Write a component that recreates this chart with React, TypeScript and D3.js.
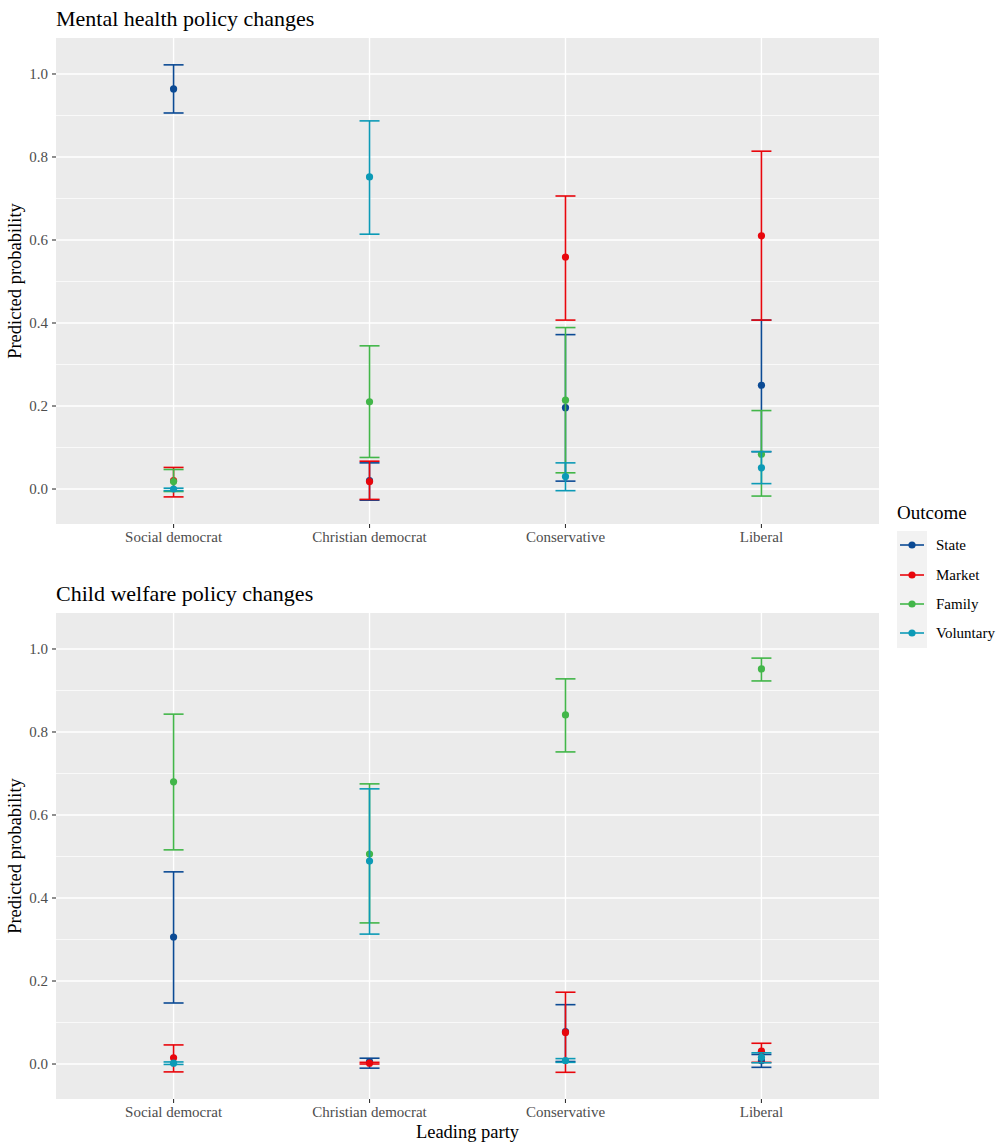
import React from "react";
import * as d3 from "d3";

const parties = ["Social democrat", "Christian democrat", "Conservative", "Liberal"];
const outcomes = ["State", "Market", "Family", "Voluntary"];
const colors = ["#0b4a94", "#e8060c", "#42b649", "#0c9ab6"];
const yTicks = [0, 0.2, 0.4, 0.6, 0.8, 1.0];
const yMinor = [0.1, 0.3, 0.5, 0.7, 0.9];

// [estimate, lower, upper] per outcome per party
const mentalState = [[0.964, 0.906, 1.022], [0.02, -0.027, 0.063], [0.196, 0.019, 0.372], [0.25, 0.09, 0.407]];
const mentalMarket = [[0.02, -0.019, 0.052], [0.018, -0.025, 0.067], [0.559, 0.407, 0.706], [0.61, 0.407, 0.814]];
const mentalFamily = [[0.018, -0.006, 0.047], [0.21, 0.076, 0.345], [0.214, 0.039, 0.389], [0.084, -0.017, 0.189]];
const mentalVoluntary = [[0.0, -0.004, 0.002], [0.752, 0.614, 0.887], [0.03, -0.004, 0.063], [0.051, 0.013, 0.09]];

const childState = [[0.306, 0.147, 0.463], [0.006, -0.01, 0.014], [0.078, 0.006, 0.143], [0.008, -0.008, 0.023]];
const childMarket = [[0.015, -0.019, 0.046], [0.002, 0.0, 0.004], [0.076, -0.02, 0.173], [0.031, 0.004, 0.05]];
const childFamily = [[0.68, 0.516, 0.843], [0.506, 0.34, 0.675], [0.841, 0.752, 0.928], [0.952, 0.923, 0.978]];
const childVoluntary = [[0.002, -0.001, 0.005], [0.489, 0.313, 0.663], [0.008, 0.004, 0.013], [0.016, 0.003, 0.027]];

const panels = [
  { title: "Mental health policy changes", series: [mentalState, mentalMarket, mentalFamily, mentalVoluntary], top: 38 },
  { title: "Child welfare policy changes", series: [childState, childMarket, childFamily, childVoluntary], top: 613 },
];

const FONT = "'Liberation Serif', 'DejaVu Serif', serif";
const left = 56, right = 879, ph = 486;

function Panel({ p, showX }: { p: typeof panels[0]; showX: boolean }) {
  const x = d3.scalePoint<string>().domain(parties).range([left, right]).padding(0.6);
  const y = d3.scaleLinear().domain([-0.0843, 1.0867]).range([p.top + ph, p.top]);
  return (
    <g>
      <text x={left} y={p.top - 12} fontSize={22} fill="#000" fontFamily={FONT}>{p.title}</text>
      <rect x={left} y={p.top} width={right - left} height={ph} fill="#ebebeb" />
      {yMinor.map((t) => (
        <line key={"m" + t} x1={left} x2={right} y1={y(t)} y2={y(t)} stroke="#fff" strokeWidth={0.7} />
      ))}
      {yTicks.map((t) => (
        <line key={"M" + t} x1={left} x2={right} y1={y(t)} y2={y(t)} stroke="#fff" strokeWidth={1.4} />
      ))}
      {parties.map((c) => (
        <line key={c} x1={x(c)} x2={x(c)} y1={p.top} y2={p.top + ph} stroke="#fff" strokeWidth={1.4} />
      ))}
      {yTicks.map((t) => (
        <g key={"t" + t}>
          <line x1={left - 4} x2={left} y1={y(t)} y2={y(t)} stroke="#333" strokeWidth={1.1} />
          <text x={left - 8} y={y(t)} dy="0.35em" textAnchor="end" fontSize={15} fill="#4d4d4d" fontFamily={FONT}>{t.toFixed(1)}</text>
        </g>
      ))}
      {parties.map((c) => (
        <g key={"xt" + c}>
          <line x1={x(c)} x2={x(c)} y1={p.top + ph} y2={p.top + ph + 4} stroke="#333" strokeWidth={1.1} />
          <text x={x(c)} y={p.top + ph + 18} textAnchor="middle" fontSize={15} fill="#4d4d4d" fontFamily={FONT}>{c}</text>
        </g>
      ))}
      <text transform={`translate(21,${p.top + ph / 2}) rotate(-90)`} textAnchor="middle" fontSize={18.5} fill="#000" fontFamily={FONT}>Predicted probability</text>
      {p.series.map((s, si) => (
        <g key={si} stroke={colors[si]} fill={colors[si]}>
          {s.map((d, ci) => {
            const cx = x(parties[ci])!;
            return (
              <g key={ci}>
                <line x1={cx} x2={cx} y1={y(d[1])} y2={y(d[2])} strokeWidth={1.6} />
                <line x1={cx - 10} x2={cx + 10} y1={y(d[1])} y2={y(d[1])} strokeWidth={1.6} />
                <line x1={cx - 10} x2={cx + 10} y1={y(d[2])} y2={y(d[2])} strokeWidth={1.6} />
                <circle cx={cx} cy={y(d[0])} r={3.6} stroke="none" />
              </g>
            );
          })}
        </g>
      ))}
      {showX && (
        <text x={(left + right) / 2} y={p.top + ph + 39} textAnchor="middle" fontSize={18.5} fill="#000" fontFamily={FONT}>Leading party</text>
      )}
    </g>
  );
}

export default function App() {
  const legY = [545, 575, 604, 633];
  return (
    <svg width={1003} height={1144} style={{ display: "block", position: "absolute", left: 0, top: 0 }}>
      <rect width={1003} height={1144} fill="#fff" />
      {panels.map((p, i) => (
        <Panel key={i} p={p} showX={i === 1} />
      ))}
      <text x={897} y={519} fontSize={19} fill="#000" fontFamily={FONT}>Outcome</text>
      <rect x={897} y={531} width={30} height={117} fill="#f2f2f2" />
      {outcomes.map((o, i) => (
        <g key={o}>
          <line x1={900} x2={924} y1={legY[i]} y2={legY[i]} stroke={colors[i]} strokeWidth={1.6} />
          <circle cx={912} cy={legY[i]} r={3.6} fill={colors[i]} />
          <text x={936} y={legY[i]} dy="0.35em" fontSize={15} fill="#000" fontFamily={FONT}>{o}</text>
        </g>
      ))}
    </svg>
  );
}
